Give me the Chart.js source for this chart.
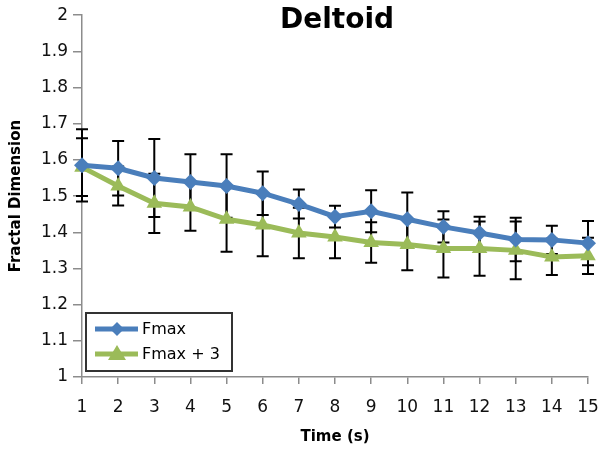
<!DOCTYPE html>
<html>

<head>
  <meta charset="utf-8">
  <title>Deltoid</title>
  <style>
    body { margin: 0; background: #fff; }
  </style>
</head>

<body>
  <canvas id="grafico" width="600" height="456"></canvas>

  <script src="https://cdn.jsdelivr.net/npm/chart.js"></script>
  <script>
    // dados
    const tempos = ['1', '2', '3', '4', '5', '6', '7', '8', '9', '10', '11', '12', '13', '14', '15'];
    const fmax = [1.585, 1.577, 1.55, 1.539, 1.528, 1.508, 1.478, 1.443, 1.458, 1.436, 1.415, 1.398, 1.38, 1.379, 1.37];
    const fmaxErro = [0.1, 0.075, 0.108, 0.077, 0.088, 0.06, 0.04, 0.03, 0.058, 0.074, 0.043, 0.045, 0.06, 0.039, 0.061];
    const fmax3 = [1.58, 1.528, 1.48, 1.47, 1.436, 1.42, 1.398, 1.387, 1.372, 1.366, 1.355, 1.355, 1.35, 1.332, 1.335];
    const fmax3Erro = [0.08, 0.054, 0.082, 0.066, 0.09, 0.086, 0.07, 0.059, 0.056, 0.071, 0.08, 0.075, 0.08, 0.05, 0.05];

    const AZUL = '#4a7ebb';
    const VERDE = '#9bbb59';
    const FONTE = '"DejaVu Sans", sans-serif';

    // barras de erro desenhadas antes das linhas
    const barrasErro = {
      id: 'barrasErro',
      beforeDatasetsDraw(chart) {
        const ctx = chart.ctx;
        const x = chart.scales.x, y = chart.scales.y;
        ctx.save();
        ctx.strokeStyle = '#000';
        ctx.lineWidth = 2;
        chart.data.datasets.forEach((ds) => {
          ds.data.forEach((v, i) => {
            const px = x.getPixelForValue(i);
            const top = y.getPixelForValue(v + ds.erros[i]);
            const bot = y.getPixelForValue(v - ds.erros[i]);
            ctx.beginPath();
            ctx.moveTo(px, top); ctx.lineTo(px, bot);
            ctx.moveTo(px - 6, top); ctx.lineTo(px + 6, top);
            ctx.moveTo(px - 6, bot); ctx.lineTo(px + 6, bot);
            ctx.stroke();
          });
        });
        ctx.restore();
      }
    };

    // titulo e legenda dentro da area do grafico
    const extras = {
      id: 'extras',
      afterDraw(chart) {
        const ctx = chart.ctx;
        const area = chart.chartArea;
        ctx.save();
        ctx.fillStyle = '#000';
        ctx.font = 'bold 28px ' + FONTE;
        ctx.textAlign = 'center';
        ctx.textBaseline = 'middle';
        ctx.fillText('Deltoid', (area.left + area.right) / 2 + 2, 21);

        // caixa da legenda
        const bx = 86, by = 313, bw = 146, bh = 58;
        ctx.fillStyle = '#fff';
        ctx.fillRect(bx, by, bw, bh);
        ctx.strokeStyle = '#333';
        ctx.lineWidth = 2;
        ctx.strokeRect(bx, by, bw, bh);
        ctx.font = '16px ' + FONTE;
        ctx.textAlign = 'left';
        chart.data.datasets.forEach((ds, i) => {
          const ly = by + 16 + i * 25;
          ctx.strokeStyle = ds.borderColor;
          ctx.lineWidth = 5;
          ctx.beginPath();
          ctx.moveTo(bx + 9, ly); ctx.lineTo(bx + 52, ly);
          ctx.stroke();
          ctx.fillStyle = ds.borderColor;
          ctx.beginPath();
          if (ds.pointStyle === 'triangle') {
            ctx.moveTo(bx + 31, ly - 9); ctx.lineTo(bx + 40, ly + 6); ctx.lineTo(bx + 22, ly + 6);
          } else {
            ctx.moveTo(bx + 31, ly - 7); ctx.lineTo(bx + 38, ly); ctx.lineTo(bx + 31, ly + 7); ctx.lineTo(bx + 24, ly);
          }
          ctx.closePath();
          ctx.fill();
          ctx.fillStyle = '#000';
          ctx.fillText(ds.label, bx + 56, ly + 1);
        });
        ctx.restore();
      }
    };

    new Chart(document.getElementById('grafico'), {
      type: 'line',
      data: {
        labels: tempos,
        datasets: [
          {
            label: 'Fmax',
            data: fmax,
            erros: fmaxErro,
            borderColor: AZUL,
            backgroundColor: AZUL,
            borderWidth: 5,
            pointStyle: 'rectRot',
            pointRadius: 8,
            pointBorderWidth: 0,
            tension: 0
          },
          {
            label: 'Fmax + 3',
            data: fmax3,
            erros: fmax3Erro,
            borderColor: VERDE,
            backgroundColor: VERDE,
            borderWidth: 5,
            pointStyle: 'triangle',
            pointRadius: 9,
            pointBorderWidth: 0,
            tension: 0
          }
        ]
      },
      options: {
        responsive: false,
        animation: false,
        layout: { padding: { left: 0, right: 0, top: 15, bottom: 0 } },
        plugins: {
          legend: { display: false },
          tooltip: { enabled: false }
        },
        scales: {
          x: {
            offset: false,
            afterFit: (s) => { s.height = 79; s.paddingRight = 12; s.paddingLeft = 0; },
            grid: { drawOnChartArea: false, drawTicks: true, tickLength: 7, color: '#8c8c8c', lineWidth: 1.5 },
            border: { color: '#8c8c8c', width: 1.5 },
            ticks: { color: '#111', font: { family: FONTE, size: 17 }, padding: 13, maxRotation: 0 },
            title: { display: true, text: 'Time (s)', color: '#000', font: { family: FONTE, size: 15, weight: 'bold' }, padding: { top: 0, bottom: 10 } }
          },
          y: {
            min: 1,
            max: 2,
            afterFit: (s) => { s.width = 82; },
            grid: { drawOnChartArea: false, drawTicks: true, tickLength: 9, color: '#8c8c8c', lineWidth: 1.5 },
            border: { color: '#8c8c8c', width: 1.5 },
            ticks: {
              stepSize: 0.1, color: '#111', font: { family: FONTE, size: 17 }, padding: 5,
              callback: (v) => String(Number(v.toFixed(1)))
            },
            title: { display: true, text: 'Fractal Dimension', color: '#000', font: { family: FONTE, size: 15, weight: 'bold' }, padding: { top: 7, bottom: 0 } }
          }
        }
      },
      plugins: [barrasErro, extras]
    });
  </script>
</body>
</html>
